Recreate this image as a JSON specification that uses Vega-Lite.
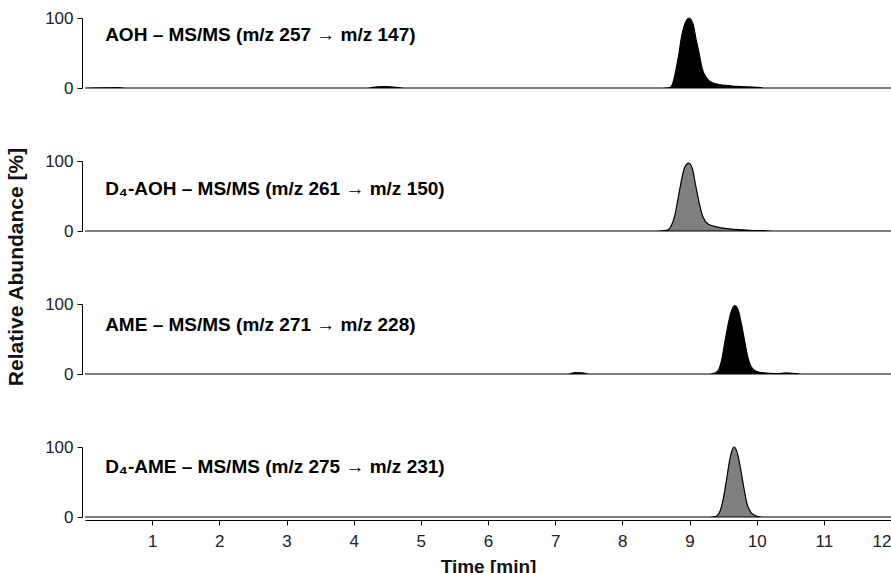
{
  "$schema": "https://vega.github.io/schema/vega-lite/v6.json",
  "padding": {"left": 5, "top": 9, "right": 0, "bottom": 0},
  "background": "white",
  "config": {
    "view": {"stroke": null},
    "font": "Liberation Sans",
    "axis": {"grid": false, "domainColor": "#000000", "tickColor": "#000000", "labelColor": "#222222", "labelFont": "Liberation Sans", "titleFont": "Liberation Sans"}
  },
  "data": {"values": [
    {"panel": "AOH", "t": 0, "v": 0},
    {"panel": "AOH", "t": 0.5, "v": 0.4},
    {"panel": "AOH", "t": 0.6, "v": 0},
    {"panel": "AOH", "t": 4.2, "v": 0},
    {"panel": "AOH", "t": 4.35, "v": 1.5},
    {"panel": "AOH", "t": 4.5, "v": 2},
    {"panel": "AOH", "t": 4.65, "v": 0.5},
    {"panel": "AOH", "t": 4.75, "v": 0},
    {"panel": "AOH", "t": 8.6, "v": 0},
    {"panel": "AOH", "t": 8.705, "v": 0.5},
    {"panel": "AOH", "t": 8.755, "v": 8},
    {"panel": "AOH", "t": 8.805, "v": 29.5},
    {"panel": "AOH", "t": 8.844, "v": 50},
    {"panel": "AOH", "t": 8.879, "v": 72},
    {"panel": "AOH", "t": 8.929, "v": 91},
    {"panel": "AOH", "t": 8.993, "v": 100},
    {"panel": "AOH", "t": 9.053, "v": 91},
    {"panel": "AOH", "t": 9.102, "v": 67.6},
    {"panel": "AOH", "t": 9.142, "v": 50},
    {"panel": "AOH", "t": 9.191, "v": 27},
    {"panel": "AOH", "t": 9.251, "v": 15},
    {"panel": "AOH", "t": 9.325, "v": 8},
    {"panel": "AOH", "t": 9.449, "v": 4.8},
    {"panel": "AOH", "t": 9.698, "v": 2.4},
    {"panel": "AOH", "t": 10.02, "v": 1},
    {"panel": "AOH", "t": 10.1, "v": 0},
    {"panel": "AOH", "t": 12, "v": 0},
    {"panel": "D4-AOH", "t": 0, "v": 0},
    {"panel": "D4-AOH", "t": 8.5, "v": 0},
    {"panel": "D4-AOH", "t": 8.656, "v": 1},
    {"panel": "D4-AOH", "t": 8.73, "v": 8},
    {"panel": "D4-AOH", "t": 8.78, "v": 22},
    {"panel": "D4-AOH", "t": 8.829, "v": 46},
    {"panel": "D4-AOH", "t": 8.879, "v": 72},
    {"panel": "D4-AOH", "t": 8.929, "v": 91},
    {"panel": "D4-AOH", "t": 8.988, "v": 97},
    {"panel": "D4-AOH", "t": 9.043, "v": 89},
    {"panel": "D4-AOH", "t": 9.092, "v": 65},
    {"panel": "D4-AOH", "t": 9.142, "v": 41},
    {"panel": "D4-AOH", "t": 9.201, "v": 20},
    {"panel": "D4-AOH", "t": 9.276, "v": 10},
    {"panel": "D4-AOH", "t": 9.4, "v": 6},
    {"panel": "D4-AOH", "t": 9.598, "v": 3},
    {"panel": "D4-AOH", "t": 9.896, "v": 1},
    {"panel": "D4-AOH", "t": 10.1, "v": 0.5},
    {"panel": "D4-AOH", "t": 10.3, "v": 0},
    {"panel": "D4-AOH", "t": 12, "v": 0},
    {"panel": "AME", "t": 0, "v": 0},
    {"panel": "AME", "t": 7.2, "v": 0},
    {"panel": "AME", "t": 7.3, "v": 2},
    {"panel": "AME", "t": 7.4, "v": 1.5},
    {"panel": "AME", "t": 7.5, "v": 0},
    {"panel": "AME", "t": 9.3, "v": 0},
    {"panel": "AME", "t": 9.35, "v": 0.5},
    {"panel": "AME", "t": 9.425, "v": 5},
    {"panel": "AME", "t": 9.474, "v": 18},
    {"panel": "AME", "t": 9.524, "v": 44},
    {"panel": "AME", "t": 9.573, "v": 70},
    {"panel": "AME", "t": 9.623, "v": 89.5},
    {"panel": "AME", "t": 9.673, "v": 97.6},
    {"panel": "AME", "t": 9.722, "v": 92},
    {"panel": "AME", "t": 9.772, "v": 72},
    {"panel": "AME", "t": 9.821, "v": 47},
    {"panel": "AME", "t": 9.871, "v": 23},
    {"panel": "AME", "t": 9.945, "v": 7},
    {"panel": "AME", "t": 10.045, "v": 2.4},
    {"panel": "AME", "t": 10.293, "v": 0.5},
    {"panel": "AME", "t": 10.44, "v": 1.5},
    {"panel": "AME", "t": 10.59, "v": 0.5},
    {"panel": "AME", "t": 10.7, "v": 0},
    {"panel": "AME", "t": 12, "v": 0},
    {"panel": "D4-AME", "t": 0, "v": 0},
    {"panel": "D4-AME", "t": 9.3, "v": 0},
    {"panel": "D4-AME", "t": 9.4, "v": 1},
    {"panel": "D4-AME", "t": 9.449, "v": 7},
    {"panel": "D4-AME", "t": 9.499, "v": 24},
    {"panel": "D4-AME", "t": 9.549, "v": 52},
    {"panel": "D4-AME", "t": 9.598, "v": 81},
    {"panel": "D4-AME", "t": 9.633, "v": 95},
    {"panel": "D4-AME", "t": 9.663, "v": 100},
    {"panel": "D4-AME", "t": 9.707, "v": 93},
    {"panel": "D4-AME", "t": 9.757, "v": 71},
    {"panel": "D4-AME", "t": 9.807, "v": 43},
    {"panel": "D4-AME", "t": 9.856, "v": 19},
    {"panel": "D4-AME", "t": 9.921, "v": 6},
    {"panel": "D4-AME", "t": 9.995, "v": 1.4},
    {"panel": "D4-AME", "t": 10.094, "v": 0},
    {"panel": "D4-AME", "t": 12, "v": 0},
    {"panel": "AOH", "t": 0.3, "v": 76, "label": "AOH – MS/MS (m/z 257 → m/z 147)"},
    {"panel": "D4-AOH", "t": 0.3, "v": 60, "label": "D₄-AOH – MS/MS (m/z 261 → m/z 150)"},
    {"panel": "AME", "t": 0.3, "v": 70, "label": "AME – MS/MS (m/z 271 → m/z 228)"},
    {"panel": "D4-AME", "t": 0.3, "v": 71, "label": "D₄-AME – MS/MS (m/z 275 → m/z 231)"}
  ]},
  "facet": {
    "row": {
      "field": "panel", "type": "nominal",
      "sort": ["AOH", "D4-AOH", "AME", "D4-AME"],
      "title": "Relative Abundance [%]",
      "header": {"labels": false, "titleFontSize": 21, "titleFontWeight": "bold", "titleFont": "Liberation Sans", "titleColor": "#111111", "titlePadding": 7}
    }
  },
  "spacing": {"row": 67},
  "spec": {
    "width": 806,
    "height": 70,
    "layer": [
      {
        "transform": [{"filter": "!isValid(datum.label)"}],
        "mark": {"type": "area", "interpolate": "monotone", "stroke": "#000000", "strokeWidth": 1.2},
        "encoding": {
          "x": {"field": "t", "type": "quantitative", "scale": {"domain": [0, 12], "nice": false},
            "axis": {"values": [1,2,3,4,5,6,7,8,9,10,11,12], "format": "d", "title": "Time [min]", "titleFontSize": 19, "titleFontWeight": "bold", "titleColor": "#111111", "labelFontSize": 17, "tickSize": 5, "labelPadding": 8, "titlePadding": 8}},
          "y": {"field": "v", "type": "quantitative", "scale": {"domain": [0, 100], "nice": false},
            "axis": {"values": [0, 50, 100], "title": null, "labelFontSize": 17, "tickSize": 5, "labelPadding": 4}},
          "fill": {"field": "panel", "type": "nominal", "legend": null,
            "scale": {"domain": ["AOH", "D4-AOH", "AME", "D4-AME"], "range": ["#000000", "#7f7f7f", "#000000", "#7f7f7f"]}}
        }
      },
      {
        "transform": [{"filter": "isValid(datum.label)"}],
        "mark": {"type": "text", "align": "left", "baseline": "middle", "fontSize": 19, "fontWeight": "bold", "color": "#000000", "font": "Liberation Sans"},
        "encoding": {
          "x": {"field": "t", "type": "quantitative"},
          "y": {"field": "v", "type": "quantitative"},
          "text": {"field": "label"}
        }
      }
    ]
  }
}
